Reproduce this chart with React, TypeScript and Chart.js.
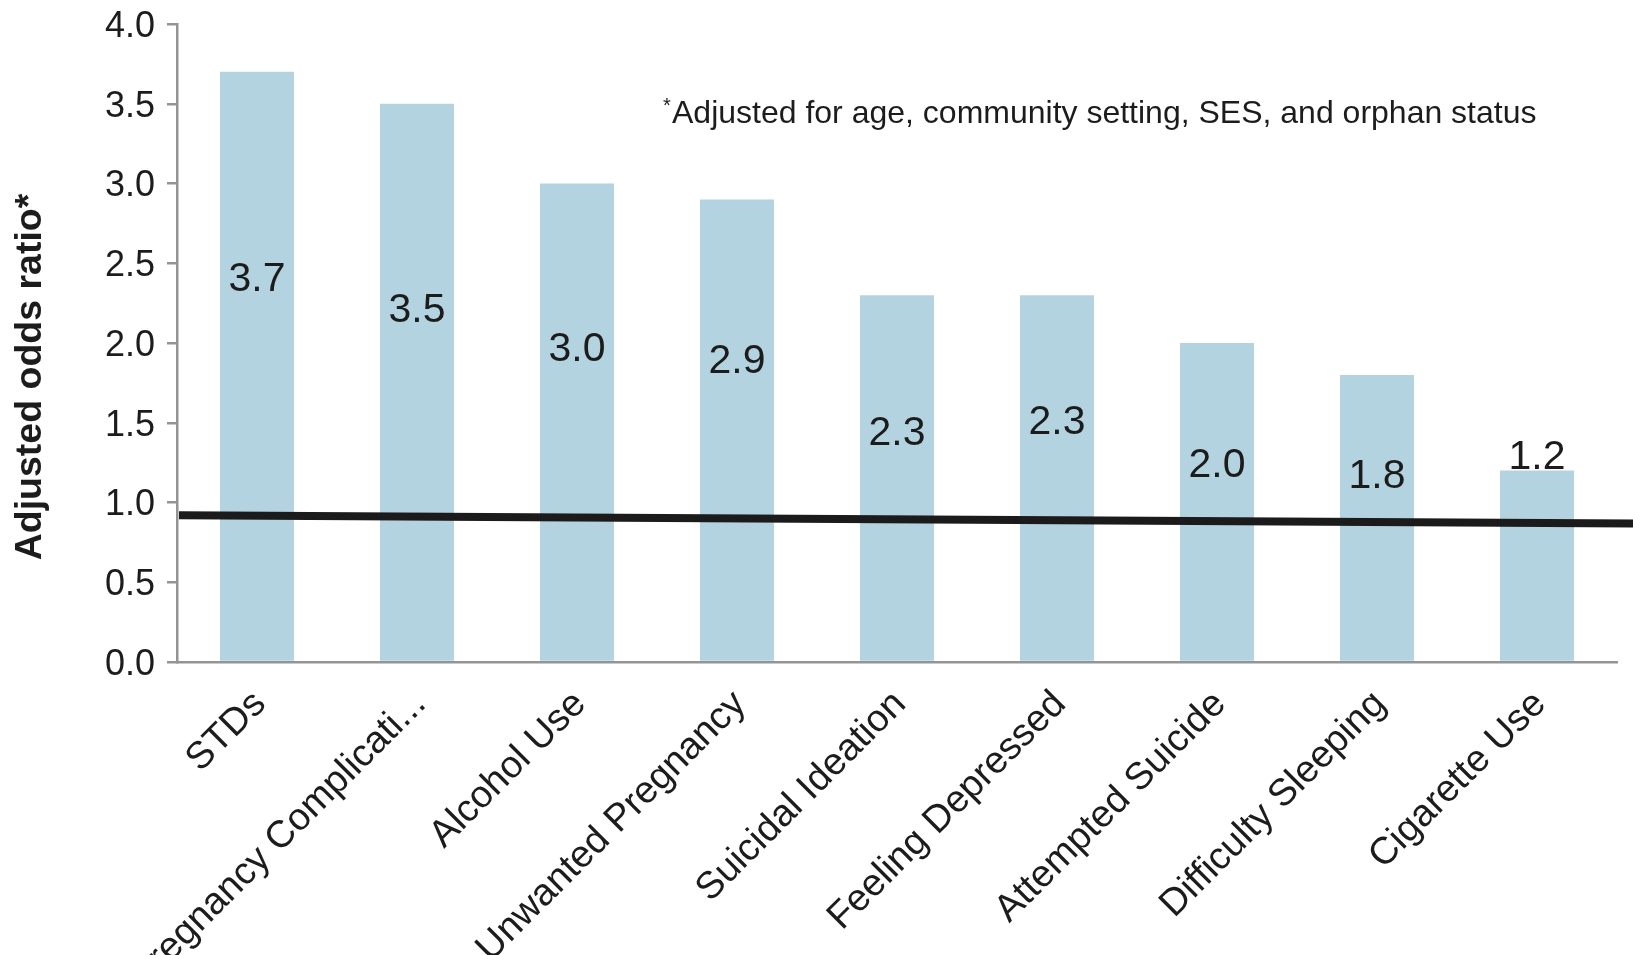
import React, { useEffect, useRef } from "react";
import { Chart, registerables } from "chart.js";

Chart.register(...registerables);

// ---- data ----
const categories = [
  "STDs",
  "Pregnancy Complicati...",
  "Alcohol Use",
  "Unwanted Pregnancy",
  "Suicidal Ideation",
  "Feeling Depressed",
  "Attempted Suicide",
  "Difficulty Sleeping",
  "Cigarette Use",
];
const oddsRatios = [3.7, 3.5, 3.0, 2.9, 2.3, 2.3, 2.0, 1.8, 1.2];
const valueLabels = ["3.7", "3.5", "3.0", "2.9", "2.3", "2.3", "2.0", "1.8", "1.2"];
// where each value label sits, in y-axis units (as placed in the original)
const valueLabelAnchors = [2.40, 2.20, 1.96, 1.88, 1.43, 1.50, 1.23, 1.16, 1.28];
const yMin = 0;
const yMax = 4;
const yStep = 0.5;
// the (slightly tilted) reference line near 1.0: value at left start and at right end
const referenceLineValues = [0.92, 0.868];
const yAxisTitle = "Adjusted odds ratio*";
const footnoteMark = "*";
const footnoteText = "Adjusted for age, community setting, SES, and orphan status";

// ---- styles ----
const FONT = "'Liberation Sans', Arial, Helvetica, sans-serif";
const TEXT = "#1c1c1c";
const AXIS = "#949494";
const BAR = "#b3d3e0";

const overlayPlugin = {
  id: "overlay",
  afterDatasetsDraw(chart: any) {
    const { ctx, chartArea, scales } = chart;
    const y = scales.y;
    ctx.save();
    // reference line
    ctx.strokeStyle = "#1b1b1b";
    ctx.lineWidth = 8;
    ctx.beginPath();
    ctx.moveTo(chartArea.left + 2, y.getPixelForValue(referenceLineValues[0]));
    ctx.lineTo(chart.width, y.getPixelForValue(referenceLineValues[1]));
    ctx.stroke();

    // value labels
    const meta = chart.getDatasetMeta(0);
    ctx.fillStyle = TEXT;
    ctx.font = `41px ${FONT}`;
    ctx.textAlign = "center";
    ctx.textBaseline = "middle";
    meta.data.forEach((bar: any, i: number) => {
      ctx.fillText(valueLabels[i], bar.x, y.getPixelForValue(valueLabelAnchors[i]));
    });

    // y-axis title
    ctx.save();
    ctx.translate(31, 377);
    ctx.rotate(-Math.PI / 2);
    ctx.font = `bold 37.5px ${FONT}`;
    ctx.textAlign = "center";
    ctx.textBaseline = "middle";
    ctx.fillText(yAxisTitle, 0, 0);
    ctx.restore();

    // footnote
    ctx.textAlign = "left";
    ctx.textBaseline = "alphabetic";
    ctx.font = `20px ${FONT}`;
    ctx.fillText(footnoteMark, 663, 112);
    ctx.font = `32px ${FONT}`;
    ctx.fillText(footnoteText, 672, 123);
    ctx.restore();
  },
};

export default function App() {
  const ref = useRef<HTMLCanvasElement | null>(null);

  useEffect(() => {
    if (!ref.current) return;
    const chart = new Chart(ref.current, {
      type: "bar",
      data: {
        labels: categories,
        datasets: [
          {
            data: oddsRatios,
            backgroundColor: BAR,
            borderWidth: 0,
            barPercentage: 0.4625,
            categoryPercentage: 1,
          },
        ],
      },
      options: {
        responsive: false,
        animation: false,
        events: [],
        layout: { padding: { left: 0, top: 24, right: 16, bottom: 0 } },
        plugins: {
          legend: { display: false },
          tooltip: { enabled: false },
          title: { display: false },
        },
        scales: {
          x: {
            z: 1,
            afterFit: (scale: any) => {
              scale.height = 293;
            },
            grid: { display: false, drawTicks: false },
            border: { display: true, color: AXIS, width: 2.5 },
            ticks: {
              autoSkip: false,
              maxRotation: 45,
              minRotation: 45,
              padding: 20,
              labelOffset: 3,
              color: TEXT,
              font: { family: FONT, size: 38 },
            },
          },
          y: {
            min: yMin,
            max: yMax,
            afterFit: (scale: any) => {
              scale.width = 177;
              scale.paddingTop = 0;
              scale.paddingBottom = 0;
            },
            grid: {
              drawOnChartArea: false,
              drawTicks: true,
              tickLength: 10,
              color: AXIS,
              lineWidth: 2.5,
            },
            border: { display: true, color: AXIS, width: 2.5 },
            ticks: {
              stepSize: yStep,
              padding: 12,
              labelOffset: 3,
              color: TEXT,
              font: { family: FONT, size: 36 },
              callback: (v: any) => Number(v).toFixed(1),
            },
          },
        },
      },
      plugins: [overlayPlugin],
    });
    return () => chart.destroy();
  }, []);

  return (
    <div style={{ position: "fixed", left: 0, top: 0, width: 1633, height: 955, background: "#fff" }}>
      <canvas ref={ref} width={1633} height={955} style={{ display: "block" }} />
    </div>
  );
}
